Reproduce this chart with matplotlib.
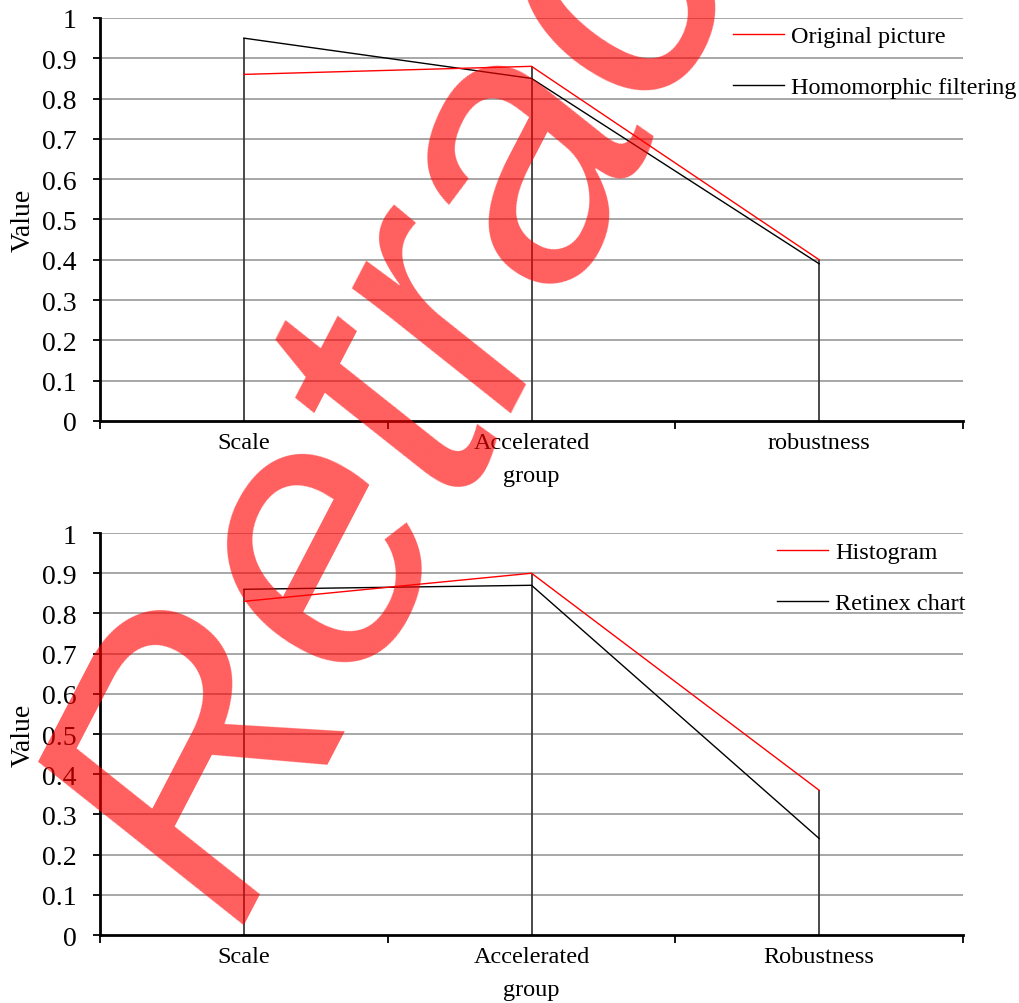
import numpy as np
import matplotlib.pyplot as plt

plt.rcParams['font.family'] = ['Liberation Serif', 'DejaVu Serif']
plt.rcParams['font.size'] = 17.5

# data
categories_top = ["Scale", "Accelerated\ngroup", "robustness"]
categories_bottom = ["Scale", "Accelerated\ngroup", "Robustness"]
original_picture = [0.86, 0.88, 0.40]
homomorphic_filtering = [0.95, 0.85, 0.39]
histogram = [0.83, 0.90, 0.36]
retinex_chart = [0.86, 0.87, 0.24]
y_ticks = [0, 0.1, 0.2, 0.3, 0.4, 0.5, 0.6, 0.7, 0.8, 0.9, 1]
y_tick_labels = ["0", "0.1", "0.2", "0.3", "0.4", "0.5", "0.6", "0.7", "0.8", "0.9", "1"]

fig = plt.figure(figsize=(10.19, 10.04), dpi=100)
ax1 = fig.add_axes([0.0981, 0.5797, 0.8470, 0.4014])
ax2 = fig.add_axes([0.0981, 0.0677, 0.8470, 0.4004])


def draw_panel(ax, cats, red_vals, black_vals, red_name, black_name, leg_pos):
    x = np.arange(len(cats))
    ax.set_xlim(-0.5, len(cats) - 0.5)
    ax.set_ylim(0, 1)
    for t in y_ticks[1:]:
        ax.axhline(t, color='#a0a0a0', lw=1.3, zorder=0)
    # drop lines from the higher point of each category
    ax.vlines(x, 0, np.maximum(red_vals, black_vals), color='#3a3a3a', lw=1.3, zorder=1)
    ax.plot(x, red_vals, color='#ff0000', lw=1.0, label=red_name, zorder=3)
    ax.plot(x, black_vals, color='#000000', lw=1.0, label=black_name, zorder=2)

    for side in ['top', 'right']:
        ax.spines[side].set_visible(False)
    for side in ['left', 'bottom']:
        ax.spines[side].set_linewidth(2)
        ax.spines[side].set_zorder(4)

    ax.set_yticks(y_ticks)
    ax.set_yticklabels(y_tick_labels, fontsize=20)
    ax.tick_params(axis='y', direction='out', length=5, width=1.3, pad=12)
    ax.set_xticks(np.arange(len(cats) + 1) - 0.5)
    ax.set_xticklabels([])
    ax.set_xticks(x, minor=True)
    ax.set_xticklabels(cats, minor=True, linespacing=1.75)
    ax.tick_params(axis='x', which='major', direction='out', length=6, width=1.3)
    ax.tick_params(axis='x', which='minor', length=0, pad=8)
    ax.set_ylabel("Value", fontsize=20, labelpad=4)

    ax.legend(loc='upper left', bbox_to_anchor=leg_pos, bbox_transform=fig.transFigure,
              frameon=False, handlelength=2.1, handletextpad=0.3, labelspacing=1.2,
              borderaxespad=0, borderpad=0)


draw_panel(ax1, categories_top, original_picture, homomorphic_filtering,
           "Original picture", "Homomorphic filtering", (733 / 1019, 1 - 26 / 1004))
draw_panel(ax2, categories_bottom, histogram, retinex_chart,
           "Histogram", "Retinex chart", (777 / 1019, 1 - 542 / 1004))

# retraction stamp across the figure
fig.text(233 / 1019, 1 - 925 / 1004, "Retracted", fontsize=270, family='Liberation Sans',
         style='italic', color='#ff0000', alpha=0.63, rotation=62.5, rotation_mode='anchor',
         ha='left', va='baseline', zorder=10)

fig.savefig("out.png", dpi=100)
